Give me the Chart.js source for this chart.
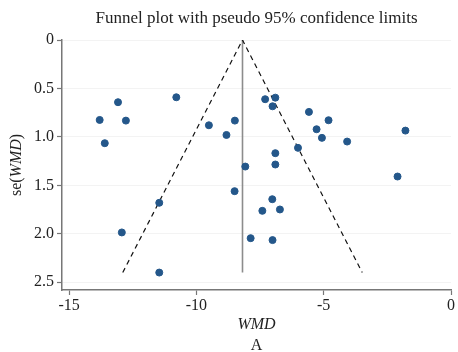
<!DOCTYPE html>
<html>
<head>
<meta charset="utf-8">
<script src="https://cdn.jsdelivr.net/npm/chart.js@4.4.0/dist/chart.umd.min.js"></script>
<style>
  html, body { margin: 0; padding: 0; background: #fff; }
  #wrap { width: 458px; height: 352px; }
</style>
</head>
<body>
<div id="wrap"><canvas id="funnel" width="458" height="352"></canvas></div>
<script>
// study estimates
var wmd = [-13.8, -13.6, -13.08, -12.77, -10.79, -9.51, -8.82, -8.49, -8.08, -8.5, -11.46, -12.93, -11.46,
           -7.30, -6.90, -7.01, -5.58, -4.81, -5.28, -5.07, -4.08, -1.79, -6.01, -6.90, -6.90, -2.10,
           -7.02, -7.41, -6.72, -7.87, -7.01];
var se = [0.825, 1.065, 0.642, 0.832, 0.591, 0.88, 0.98, 0.832, 1.306, 1.56, 1.68, 1.986, 2.40,
          0.611, 0.595, 0.684, 0.742, 0.828, 0.921, 1.01, 1.048, 0.935, 1.113, 1.168, 1.285, 1.409,
          1.643, 1.763, 1.749, 2.045, 2.065];
var pooled = -8.19;
var seMax = 2.4;
var xTicks = [-15, -10, -5, 0];
var yTicks = [0, 0.5, 1.0, 1.5, 2.0, 2.5];

var serif = "'Liberation Serif', 'DejaVu Serif', serif";
var points = wmd.map(function (v, i) { return { x: v, y: se[i] }; });
var z = 1.96;

var textPlugin = {
    id: 'texts',
    afterDraw: function (chart) {
        var ctx = chart.ctx;
        var area = chart.chartArea;
        ctx.save();
        ctx.fillStyle = '#222';
        ctx.textBaseline = 'middle';
        ctx.textAlign = 'center';
        ctx.font = '17px ' + serif;
        ctx.fillText('Funnel plot with pseudo 95% confidence limits', (area.left + area.right) / 2, 19);
        ctx.font = 'italic 16px ' + serif;
        ctx.fillText('WMD', (area.left + area.right) / 2, 325);
        ctx.font = '16px ' + serif;
        ctx.fillText('A', (area.left + area.right) / 2, 346);

        // y title: se(WMD) with italic WMD
        ctx.translate(17, (area.top + area.bottom) / 2);
        ctx.rotate(-Math.PI / 2);
        var parts = [['se(', '16px '], ['WMD', 'italic 16px '], [')', '16px ']];
        var total = 0;
        parts.forEach(function (p) { ctx.font = p[1] + serif; total += ctx.measureText(p[0]).width; });
        var x = -total / 2;
        ctx.textAlign = 'left';
        parts.forEach(function (p) {
            ctx.font = p[1] + serif;
            ctx.fillText(p[0], x, 0);
            x += ctx.measureText(p[0]).width;
        });
        ctx.restore();
    }
};

new Chart('funnel', {
    type: 'scatter',
    data: {
        datasets: [{
            data: points,
            backgroundColor: '#24578a',
            borderColor: '#24578a',
            pointRadius: 3.5,
            pointHoverRadius: 3.5,
            order: 0
        }, {
            type: 'line',
            data: [{ x: pooled, y: 0 }, { x: pooled, y: seMax }],
            borderColor: '#8c8c8c',
            borderWidth: 1.6,
            pointRadius: 0,
            order: 2
        }, {
            type: 'line',
            data: [{ x: pooled - z * seMax, y: seMax }, { x: pooled, y: 0 }, { x: pooled + z * seMax, y: seMax }],
            borderColor: '#111',
            borderWidth: 1.2,
            borderDash: [5, 4],
            pointRadius: 0,
            order: 1
        }]
    },
    options: {
        responsive: false,
        animation: false,
        layout: { padding: { top: 40, right: 7, left: 0, bottom: 0 } },
        plugins: { legend: { display: false }, tooltip: { enabled: false } },
        scales: {
            x: {
                type: 'linear',
                min: -15.28,
                max: 0,
                afterBuildTicks: function (scale) { scale.ticks = xTicks.map(function (v) { return { value: v }; }); },
                afterFit: function (scale) { scale.height = 62; },
                grid: { drawOnChartArea: false, tickColor: '#777', tickLength: 5, tickWidth: 1.2 },
                border: { color: '#777', width: 1.5 },
                ticks: { color: '#222', font: { family: serif, size: 16 }, padding: 1 }
            },
            y: {
                type: 'linear',
                reverse: true,
                min: 0,
                max: 2.58,
                afterBuildTicks: function (scale) { scale.ticks = yTicks.map(function (v) { return { value: v }; }); },
                afterFit: function (scale) { scale.width = 62; },
                grid: { color: '#f3f3f3', tickColor: '#777', tickLength: 5, tickWidth: 1.2 },
                border: { color: '#777', width: 1.5 },
                ticks: {
                    color: '#222', font: { family: serif, size: 16 }, padding: 3,
                    callback: function (v) { return v === 0 ? '0' : v.toFixed(1); }
                }
            }
        }
    },
    plugins: [textPlugin]
});
</script>
</body>
</html>
